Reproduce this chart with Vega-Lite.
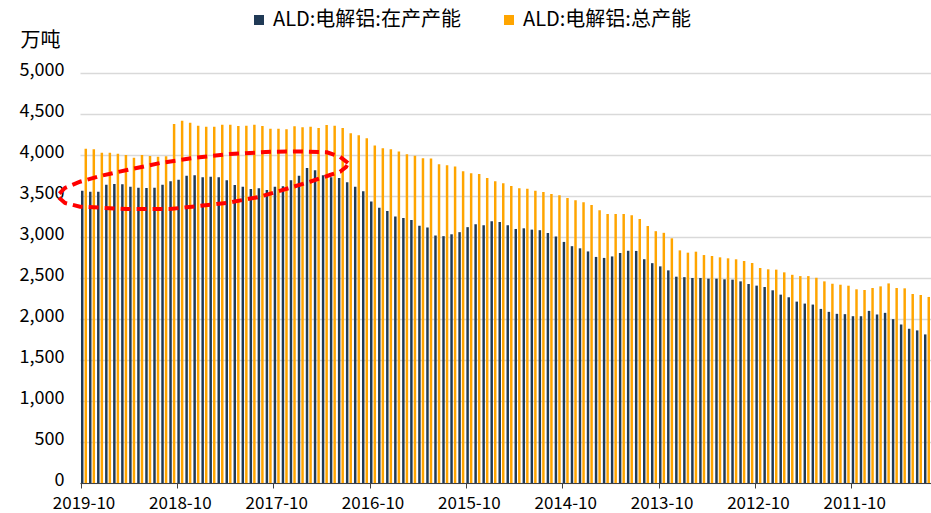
{
  "$schema": "https://vega.github.io/schema/vega-lite/v6.json",
  "width": 851,
  "height": 410,
  "autosize": {"type": "none"},
  "padding": {"left": 80, "top": 73, "right": 0, "bottom": 30},
  "config": {"view": {"stroke": null}, "font": "Noto Sans CJK SC"},
  "datasets": {
    "cap": [
      {"d":"2019-10","ALD:电解铝:在产产能":3565,"ALD:电解铝:总产能":4077},
      {"d":"2019-09","ALD:电解铝:在产产能":3553,"ALD:电解铝:总产能":4069},
      {"d":"2019-08","ALD:电解铝:在产产能":3553,"ALD:电解铝:总产能":4028},
      {"d":"2019-07","ALD:电解铝:在产产能":3638,"ALD:电解铝:总产能":4028},
      {"d":"2019-06","ALD:电解铝:在产产能":3646,"ALD:电解铝:总产能":4016},
      {"d":"2019-05","ALD:电解铝:在产产能":3642,"ALD:电解铝:总产能":4000},
      {"d":"2019-04","ALD:电解铝:在产产能":3614,"ALD:电解铝:总产能":3967},
      {"d":"2019-03","ALD:电解铝:在产产能":3602,"ALD:电解铝:总产能":4000},
      {"d":"2019-02","ALD:电解铝:在产产能":3598,"ALD:电解铝:总产能":3988},
      {"d":"2019-01","ALD:电解铝:在产产能":3602,"ALD:电解铝:总产能":3980},
      {"d":"2018-12","ALD:电解铝:在产产能":3638,"ALD:电解铝:总产能":3984},
      {"d":"2018-11","ALD:电解铝:在产产能":3679,"ALD:电解铝:总产能":4378},
      {"d":"2018-10","ALD:电解铝:在产产能":3699,"ALD:电解铝:总产能":4419},
      {"d":"2018-09","ALD:电解铝:在产产能":3748,"ALD:电解铝:总产能":4394},
      {"d":"2018-08","ALD:电解铝:在产产能":3752,"ALD:电解铝:总产能":4358},
      {"d":"2018-07","ALD:电解铝:在产产能":3728,"ALD:电解铝:总产能":4346},
      {"d":"2018-06","ALD:电解铝:在产产能":3736,"ALD:电解铝:总产能":4346},
      {"d":"2018-05","ALD:电解铝:在产产能":3728,"ALD:电解铝:总产能":4370},
      {"d":"2018-04","ALD:电解铝:在产产能":3691,"ALD:电解铝:总产能":4370},
      {"d":"2018-03","ALD:电解铝:在产产能":3634,"ALD:电解铝:总产能":4354},
      {"d":"2018-02","ALD:电解铝:在产产能":3614,"ALD:电解铝:总产能":4358},
      {"d":"2018-01","ALD:电解铝:在产产能":3585,"ALD:电解铝:总产能":4370},
      {"d":"2017-12","ALD:电解铝:在产产能":3593,"ALD:电解铝:总产能":4354},
      {"d":"2017-11","ALD:电解铝:在产产能":3573,"ALD:电解铝:总产能":4321},
      {"d":"2017-10","ALD:电解铝:在产产能":3614,"ALD:电解铝:总产能":4321},
      {"d":"2017-09","ALD:电解铝:在产产能":3618,"ALD:电解铝:总产能":4313},
      {"d":"2017-08","ALD:电解铝:在产产能":3691,"ALD:电解铝:总产能":4350},
      {"d":"2017-07","ALD:电解铝:在产产能":3748,"ALD:电解铝:总产能":4337},
      {"d":"2017-06","ALD:电解铝:在产产能":3841,"ALD:电解铝:总产能":4346},
      {"d":"2017-05","ALD:电解铝:在产产能":3813,"ALD:电解铝:总产能":4329},
      {"d":"2017-04","ALD:电解铝:在产产能":3752,"ALD:电解铝:总产能":4366},
      {"d":"2017-03","ALD:电解铝:在产产能":3728,"ALD:电解铝:总产能":4358},
      {"d":"2017-02","ALD:电解铝:在产产能":3720,"ALD:电解铝:总产能":4329},
      {"d":"2017-01","ALD:电解铝:在产产能":3667,"ALD:电解铝:总产能":4264},
      {"d":"2016-12","ALD:电解铝:在产产能":3614,"ALD:电解铝:总产能":4240},
      {"d":"2016-11","ALD:电解铝:在产产能":3557,"ALD:电解铝:总产能":4205},
      {"d":"2016-10","ALD:电解铝:在产产能":3433,"ALD:电解铝:总产能":4116},
      {"d":"2016-09","ALD:电解铝:在产产能":3358,"ALD:电解铝:总产能":4081},
      {"d":"2016-08","ALD:电解铝:在产产能":3317,"ALD:电解铝:总产能":4069},
      {"d":"2016-07","ALD:电解铝:在产产能":3250,"ALD:电解铝:总产能":4043},
      {"d":"2016-06","ALD:电解铝:在产产能":3232,"ALD:电解铝:总产能":4010},
      {"d":"2016-05","ALD:电解铝:在产产能":3207,"ALD:电解铝:总产能":3990},
      {"d":"2016-04","ALD:电解铝:在产产能":3138,"ALD:电解铝:总产能":3961},
      {"d":"2016-03","ALD:电解铝:在产产能":3116,"ALD:电解铝:总产能":3957},
      {"d":"2016-02","ALD:电解铝:在产产能":3018,"ALD:电解铝:总产能":3886},
      {"d":"2016-01","ALD:电解铝:在产产能":3010,"ALD:电解铝:总产能":3874},
      {"d":"2015-12","ALD:电解铝:在产产能":3033,"ALD:电解铝:总产能":3860},
      {"d":"2015-11","ALD:电解铝:在产产能":3059,"ALD:电解铝:总产能":3801},
      {"d":"2015-10","ALD:电解铝:在产产能":3120,"ALD:电解铝:总产能":3776},
      {"d":"2015-09","ALD:电解铝:在产产能":3157,"ALD:电解铝:总产能":3768},
      {"d":"2015-08","ALD:电解铝:在产产能":3144,"ALD:电解铝:总产能":3718},
      {"d":"2015-07","ALD:电解铝:在产产能":3191,"ALD:电解铝:总产能":3681},
      {"d":"2015-06","ALD:电解铝:在产产能":3183,"ALD:电解铝:总产能":3654},
      {"d":"2015-05","ALD:电解铝:在产产能":3142,"ALD:电解铝:总产能":3622},
      {"d":"2015-04","ALD:电解铝:在产产能":3098,"ALD:电解铝:总产能":3594},
      {"d":"2015-03","ALD:电解铝:在产产能":3106,"ALD:电解铝:总产能":3589},
      {"d":"2015-02","ALD:电解铝:在产产能":3090,"ALD:电解铝:总产能":3565},
      {"d":"2015-01","ALD:电解铝:在产产能":3083,"ALD:电解铝:总产能":3549},
      {"d":"2014-12","ALD:电解铝:在产产能":3049,"ALD:电解铝:总产能":3524},
      {"d":"2014-11","ALD:电解铝:在产产能":3006,"ALD:电解铝:总产能":3508},
      {"d":"2014-10","ALD:电解铝:在产产能":2940,"ALD:电解铝:总产能":3476},
      {"d":"2014-09","ALD:电解铝:在产产能":2888,"ALD:电解铝:总产能":3447},
      {"d":"2014-08","ALD:电解铝:在产产能":2862,"ALD:电解铝:总产能":3423},
      {"d":"2014-07","ALD:电解铝:在产产能":2824,"ALD:电解铝:总产能":3390},
      {"d":"2014-06","ALD:电解铝:在产产能":2757,"ALD:电解铝:总产能":3325},
      {"d":"2014-05","ALD:电解铝:在产产能":2745,"ALD:电解铝:总产能":3280},
      {"d":"2014-04","ALD:电解铝:在产产能":2763,"ALD:电解铝:总产能":3280},
      {"d":"2014-03","ALD:电解铝:在产产能":2805,"ALD:电解铝:总产能":3280},
      {"d":"2014-02","ALD:电解铝:在产产能":2832,"ALD:电解铝:总产能":3264},
      {"d":"2014-01","ALD:电解铝:在产产能":2830,"ALD:电解铝:总产能":3220},
      {"d":"2013-12","ALD:电解铝:在产产能":2729,"ALD:电解铝:总产能":3134},
      {"d":"2013-11","ALD:电解铝:在产产能":2681,"ALD:电解铝:总产能":3071},
      {"d":"2013-10","ALD:电解铝:在产产能":2642,"ALD:电解铝:总产能":3051},
      {"d":"2013-09","ALD:电解铝:在产产能":2593,"ALD:电解铝:总产能":2984},
      {"d":"2013-08","ALD:电解铝:在产产能":2516,"ALD:电解铝:总产能":2837},
      {"d":"2013-07","ALD:电解铝:在产产能":2510,"ALD:电解铝:总产能":2809},
      {"d":"2013-06","ALD:电解铝:在产产能":2500,"ALD:电解铝:总产能":2821},
      {"d":"2013-05","ALD:电解铝:在产产能":2500,"ALD:电解铝:总产能":2780},
      {"d":"2013-04","ALD:电解铝:在产产能":2492,"ALD:电解铝:总产能":2768},
      {"d":"2013-03","ALD:电解铝:在产产能":2492,"ALD:电解铝:总产能":2752},
      {"d":"2013-02","ALD:电解铝:在产产能":2484,"ALD:电解铝:总产能":2740},
      {"d":"2013-01","ALD:电解铝:在产产能":2480,"ALD:电解铝:总产能":2728},
      {"d":"2012-12","ALD:电解铝:在产产能":2459,"ALD:电解铝:总产能":2707},
      {"d":"2012-11","ALD:电解铝:在产产能":2427,"ALD:电解铝:总产能":2683},
      {"d":"2012-10","ALD:电解铝:在产产能":2407,"ALD:电解铝:总产能":2622},
      {"d":"2012-09","ALD:电解铝:在产产能":2390,"ALD:电解铝:总产能":2606},
      {"d":"2012-08","ALD:电解铝:在产产能":2350,"ALD:电解铝:总产能":2602},
      {"d":"2012-07","ALD:电解铝:在产产能":2297,"ALD:电解铝:总产能":2569},
      {"d":"2012-06","ALD:电解铝:在产产能":2265,"ALD:电解铝:总产能":2539},
      {"d":"2012-05","ALD:电解铝:在产产能":2212,"ALD:电解铝:总产能":2523},
      {"d":"2012-04","ALD:电解铝:在产产能":2188,"ALD:电解铝:总产能":2523},
      {"d":"2012-03","ALD:电解铝:在产产能":2176,"ALD:电解铝:总产能":2503},
      {"d":"2012-02","ALD:电解铝:在产产能":2123,"ALD:电解铝:总产能":2459},
      {"d":"2012-01","ALD:电解铝:在产产能":2087,"ALD:电解铝:总产能":2430},
      {"d":"2011-12","ALD:电解铝:在产产能":2063,"ALD:电解铝:总产能":2418},
      {"d":"2011-11","ALD:电解铝:在产产能":2059,"ALD:电解铝:总产能":2406},
      {"d":"2011-10","ALD:电解铝:在产产能":2034,"ALD:电解铝:总产能":2362},
      {"d":"2011-09","ALD:电解铝:在产产能":2034,"ALD:电解铝:总产能":2354},
      {"d":"2011-08","ALD:电解铝:在产产能":2099,"ALD:电解铝:总产能":2378},
      {"d":"2011-07","ALD:电解铝:在产产能":2055,"ALD:电解铝:总产能":2398},
      {"d":"2011-06","ALD:电解铝:在产产能":2075,"ALD:电解铝:总产能":2434},
      {"d":"2011-05","ALD:电解铝:在产产能":1998,"ALD:电解铝:总产能":2378},
      {"d":"2011-04","ALD:电解铝:在产产能":1933,"ALD:电解铝:总产能":2374},
      {"d":"2011-03","ALD:电解铝:在产产能":1881,"ALD:电解铝:总产能":2305},
      {"d":"2011-02","ALD:电解铝:在产产能":1861,"ALD:电解铝:总产能":2293},
      {"d":"2011-01","ALD:电解铝:在产产能":1812,"ALD:电解铝:总产能":2269}
    ],
    "ring": [
      {"k":0,"m":32.88,"v":3902},
      {"k":1,"m":31.89,"v":3979},
      {"k":2,"m":30.27,"v":4033},
      {"k":3,"m":26.91,"v":4043},
      {"k":4,"m":23.54,"v":4040},
      {"k":5,"m":18.19,"v":4012},
      {"k":6,"m":13.58,"v":3963},
      {"k":7,"m":9.47,"v":3902},
      {"k":8,"m":5.36,"v":3817},
      {"k":9,"m":1.99,"v":3744},
      {"k":10,"m":-0.5,"v":3674},
      {"k":11,"m":-2.37,"v":3598},
      {"k":12,"m":-3.36,"v":3500},
      {"k":13,"m":-2.37,"v":3415},
      {"k":14,"m":-0.5,"v":3370},
      {"k":15,"m":5.36,"v":3341},
      {"k":16,"m":10.71,"v":3341},
      {"k":17,"m":17.81,"v":3415},
      {"k":18,"m":21.92,"v":3491},
      {"k":19,"m":24.04,"v":3552},
      {"k":20,"m":28.15,"v":3674},
      {"k":21,"m":30.64,"v":3756},
      {"k":22,"m":31.89,"v":3796},
      {"k":23,"m":32.64,"v":3854},
      {"k":24,"m":32.88,"v":3902}
    ]
  },
  "layer": [
    {
      "data": {"name": "cap"},
      "transform": [{"fold": ["ALD:电解铝:在产产能", "ALD:电解铝:总产能"], "as": ["s", "v"]}],
      "mark": {"type": "bar"},
      "encoding": {
        "x": {
          "field": "d", "type": "ordinal", "sort": "descending",
          "scale": {"paddingInner": 0.25, "paddingOuter": 0.125},
          "axis": {
            "title": null,
            "values": ["2019-10","2018-10","2017-10","2016-10","2015-10","2014-10","2013-10","2012-10","2011-10"],
            "labelAngle": 0, "labelFontSize": 17, "labelColor": "#000000",
            "domainColor": "#404040", "tickColor": "#404040", "tickSize": 5,
            "bandPosition": 0, "labelPadding": 7, "grid": false
          }
        },
        "xOffset": {
          "field": "s", "type": "nominal",
          "scale": {"domain": ["ALD:电解铝:在产产能", "ALD:电解铝:总产能"], "paddingInner": 0.3}
        },
        "y": {
          "field": "v", "type": "quantitative",
          "scale": {"domain": [0, 5000], "nice": false},
          "axis": {
            "values": [0,500,1000,1500,2000,2500,3000,3500,4000,4500,5000],
            "format": ",.0f", "title": "万吨", "titleAngle": 0, "titleX": -60, "titleY": -33,
            "titleAlign": "left", "titleBaseline": "middle", "titleFontSize": 20,
            "titleFontWeight": "normal", "titleColor": "#000000",
            "domain": false, "ticks": false, "labelFontSize": 18, "labelColor": "#000000",
            "labelPadding": 16, "labelOffset": -3, "grid": true, "gridColor": "#d9d9d9", "gridWidth": 1.5
          }
        },
        "color": {
          "field": "s", "type": "nominal",
          "scale": {"domain": ["ALD:电解铝:在产产能", "ALD:电解铝:总产能"], "range": ["#203A56", "#FFA500"]},
          "legend": {
            "orient": "none", "legendX": 169, "legendY": -63, "direction": "horizontal",
            "title": null, "symbolType": "square", "symbolSize": 100, "labelFontSize": 20,
            "labelColor": "#000000", "labelOffset": 4, "columnPadding": 38, "labelLimit": 400
          }
        }
      }
    },
    {
      "data": {"name": "ring"},
      "mark": {"type": "line", "color": "#FF0000", "strokeDash": [10, 6], "strokeWidth": 4, "clip": false},
      "encoding": {
        "x": {"field": "m", "type": "quantitative", "scale": {"domain": [-0.5, 105.5], "nice": false, "zero": false}, "axis": null},
        "y": {
          "field": "v", "type": "quantitative",
          "axis": {
            "values": [0,500,1000,1500,2000,2500,3000,3500,4000,4500,5000],
            "format": ",.0f", "title": "万吨", "titleAngle": 0, "titleX": -60, "titleY": -33,
            "titleAlign": "left", "titleBaseline": "middle", "titleFontSize": 20,
            "titleFontWeight": "normal", "titleColor": "#000000",
            "domain": false, "ticks": false, "labelFontSize": 18, "labelColor": "#000000",
            "labelPadding": 16, "labelOffset": -3, "grid": true, "gridColor": "#d9d9d9", "gridWidth": 1.5
          }
        },
        "order": {"field": "k"}
      }
    }
  ],
  "resolve": {"scale": {"x": "independent"}}
}
